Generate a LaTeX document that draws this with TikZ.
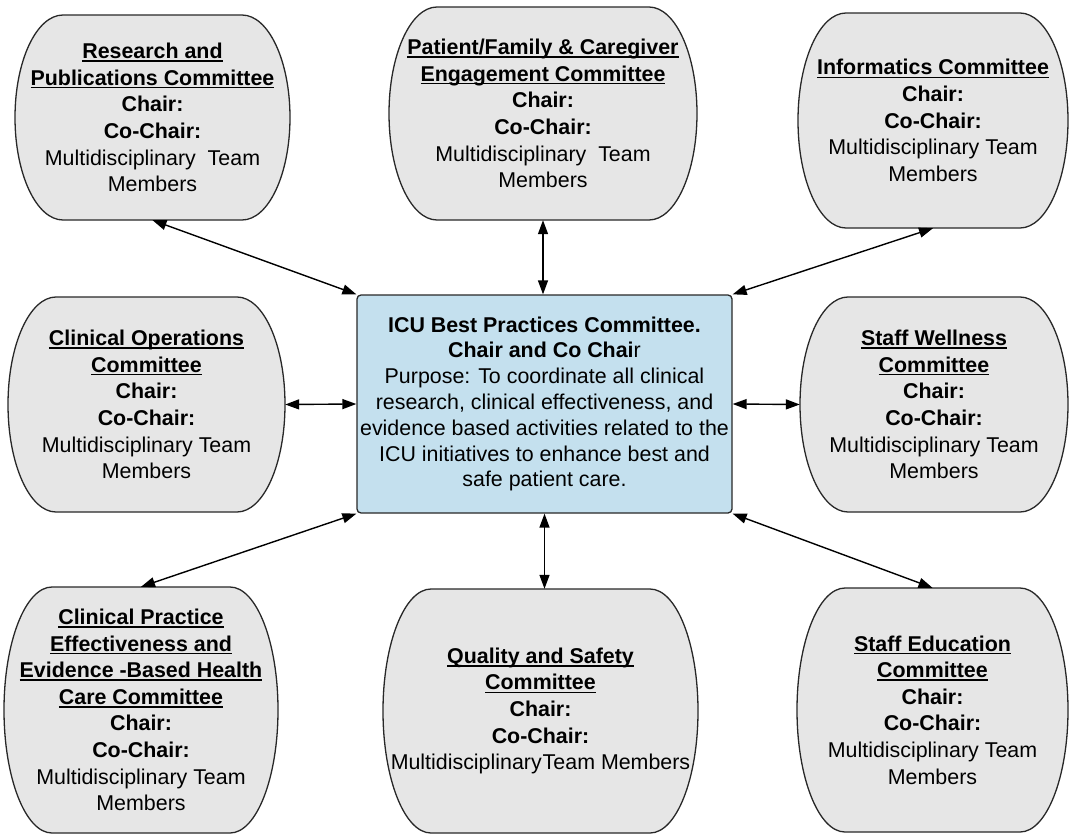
\documentclass[tikz,border=0pt]{standalone}
\usepackage{fontspec}
\setmainfont{Liberation Sans}
\usetikzlibrary{arrows.meta}
\definecolor{cgray}{RGB}{230,230,230}
\definecolor{cblue}{RGB}{196,224,238}
\definecolor{edgec}{RGB}{40,40,40}
\newcommand\ulx[1]{\setbox0\hbox{#1}\rlap{\rule[-3.2pt]{\wd0}{1.5pt}}\box0}
\tikzset{
  cbox/.style={draw=edgec, fill=cgray, line width=1.3pt},
  ctext/.style={align=center, inner sep=0pt, font=\fontsize{21.4}{26.6}\selectfont, text=black},
  centralbox/.style={draw=edgec, fill=cblue, line width=1.3pt, rounded corners=4pt, align=center, inner sep=0pt, font=\fontsize{21.4}{25.8}\selectfont},
  arr/.style={line width=1.4pt, black, {Triangle[length=14pt,width=10pt]}-{Triangle[length=14pt,width=10pt]}}
}
% name, x0, y0, x1, y1, text
\newcommand\committee[6]{%
  \pgfmathsetmacro\bh{(#5-#3)/2}%
  \pgfmathsetmacro\bk{0.5523*48}%
  \pgfmathsetmacro\bv{0.5523*\bh}%
  \pgfmathsetmacro\bw{#4-#2}%
  \pgfmathsetmacro\bhh{#5-#3}%
  \filldraw[cbox] (#2+48,#3) -- (#4-48,#3)
     .. controls (#4-48+\bk,#3) and (#4,#3+\bh-\bv) .. (#4,#3+\bh)
     .. controls (#4,#3+\bh+\bv) and (#4-48+\bk,#5) .. (#4-48,#5)
     -- (#2+48,#5)
     .. controls (#2+48-\bk,#5) and (#2,#3+\bh+\bv) .. (#2,#3+\bh)
     .. controls (#2,#3+\bh-\bv) and (#2+48-\bk,#3) .. (#2+48,#3) -- cycle;
  \node[ctext, minimum width=\bw pt, minimum height=\bhh pt] (#1) at ({(#2+#4)/2},{(#3+#5)/2}) {#6};
}
\begin{document}
\begin{tikzpicture}[x=1pt,y=-1pt]
\useasboundingbox (0,0) rectangle (1069,835);
\fill[white] (0,0) rectangle (1069,835);

\committee{res}{15}{15}{290}{220}{\textbf{\ulx{Research and}}\\\textbf{\ulx{Publications Committee}}\\\textbf{Chair:}\\\textbf{Co-Chair:}\\Multidisciplinary\ \ Team\\Members}
\committee{pat}{389}{7}{697}{220}{\textbf{\ulx{Patient/Family \& Caregiver}}\\\textbf{\ulx{Engagement Committee}}\\\textbf{Chair:}\\\textbf{Co-Chair:}\\Multidisciplinary\ \ Team\\Members}
\committee{inf}{798}{13}{1068}{228}{\textbf{\ulx{Informatics Committee}}\\\textbf{Chair:}\\\textbf{Co-Chair:}\\Multidisciplinary Team\\Members}
\committee{ops}{8}{297}{285}{512}{\textbf{\ulx{Clinical Operations}}\\\textbf{\ulx{Committee}}\\\textbf{Chair:}\\\textbf{Co-Chair:}\\Multidisciplinary Team\\Members}
\committee{wel}{800}{297}{1068}{512}{\textbf{\ulx{Staff Wellness}}\\\textbf{\ulx{Committee}}\\\textbf{Chair:}\\\textbf{Co-Chair:}\\Multidisciplinary Team\\Members}
\committee{cpe}{4}{587}{278}{833}{\textbf{\ulx{Clinical Practice}}\\\textbf{\ulx{Effectiveness and}}\\\textbf{\ulx{Evidence -Based Health}}\\\textbf{\ulx{Care Committee}}\\\textbf{Chair:}\\\textbf{Co-Chair:}\\Multidisciplinary Team\\Members}
\committee{qua}{383}{589}{698}{833}{\textbf{\ulx{Quality and Safety}}\\\textbf{\ulx{Committee}}\\\textbf{Chair:}\\\textbf{Co-Chair:}\\Multidisciplinary\kern1pt Team Members}
\committee{edu}{797}{588}{1068}{832}{\textbf{\ulx{Staff Education}}\\\textbf{\ulx{Committee}}\\\textbf{Chair:}\\\textbf{Co-Chair:}\\Multidisciplinary Team\\Members}

\node[centralbox, minimum width=375pt, minimum height=218pt] (cen) at (544.5,404)
 {\textbf{ICU Best Practices Committee.}\\\textbf{Chair and Co Chai}r\\Purpose: To coordinate all clinical\\research, clinical effectiveness, and\\evidence based activities related to the\\ICU initiatives to enhance best and\\safe patient care.};

\draw[arr] (res.south) -- (cen.north west);
\draw[arr] (pat.south) -- (pat.south |- cen.north);
\draw[arr] (inf.south) -- (cen.north east);
\draw[arr] (ops.east) -- (cen.west);
\draw[arr] (cen.east) -- (wel.west);
\draw[arr] (cpe.north) -- (cen.south west);
\draw[arr] (cen.south) -- (cen.south |- qua.north);
\draw[arr] (cen.south east) -- (edu.north);
\end{tikzpicture}
\end{document}
